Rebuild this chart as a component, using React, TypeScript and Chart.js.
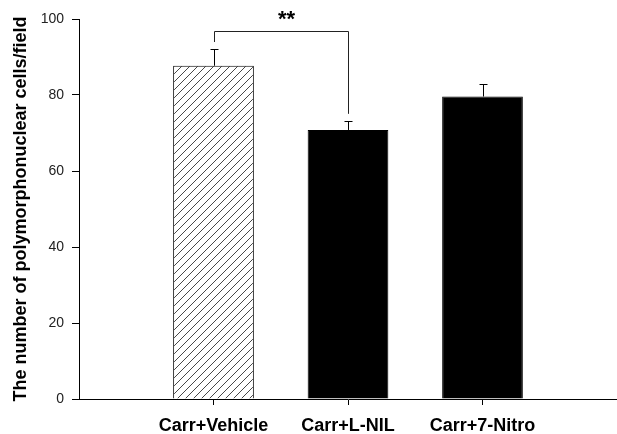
import React, { useEffect, useRef } from 'react';
import { Chart, registerables } from 'chart.js';

Chart.register(...registerables);

const categories = ['', 'Carr+Vehicle', 'Carr+L-NIL', 'Carr+7-Nitro', ''];
const means = [null, 87.7, 70.8, 79.6, null];
const errors = [null, 4.4, 2.4, 3.3, null];
const yMin = 0;
const yMax = 100;
const yStep = 20;
const yTitle = 'The number of polymorphonuclear cells/field';
const sigPair = [1, 2];
const sigLevel = 96.9;
const sigLabel = '**';

const FONT = "'Liberation Sans', Arial, Helvetica, sans-serif";

function makeHatch(): CanvasPattern | string {
  const c = document.createElement('canvas');
  c.width = 8;
  c.height = 8;
  const g = c.getContext('2d');
  if (!g) return '#fff';
  g.fillStyle = '#fff';
  g.fillRect(0, 0, 8, 8);
  g.strokeStyle = '#333';
  g.lineWidth = 0.9;
  g.beginPath();
  g.moveTo(-1, 9);
  g.lineTo(9, -1);
  g.moveTo(-1, 1);
  g.lineTo(1, -1);
  g.moveTo(7, 9);
  g.lineTo(9, 7);
  g.stroke();
  const p = g.createPattern(c, 'repeat');
  return p || '#fff';
}

const annotPlugin = {
  id: 'annot',
  afterDatasetsDraw(chart: any) {
    const ctx = chart.ctx;
    const meta = chart.getDatasetMeta(0);
    const ys = chart.scales.y;
    ctx.save();
    ctx.strokeStyle = '#000';
    ctx.lineWidth = 1;
    means.forEach((m, i) => {
      if (m == null) return;
      const bar = meta.data[i];
      const x = Math.round(bar.x) + 0.5;
      const y0 = ys.getPixelForValue(m);
      const y1 = Math.round(ys.getPixelForValue(m + (errors[i] as number))) + 0.5;
      ctx.beginPath();
      ctx.moveTo(x, y0);
      ctx.lineTo(x, y1);
      ctx.moveTo(x - 4, y1);
      ctx.lineTo(x + 4, y1);
      ctx.stroke();
    });
    // significance bracket
    const [a, b] = sigPair;
    const xa = Math.round(meta.data[a].x) + 0.5;
    const xb = Math.round(meta.data[b].x) + 0.5;
    const yTop = Math.round(ys.getPixelForValue(sigLevel)) + 0.5;
    const ya = ys.getPixelForValue((means[a] as number) + (errors[a] as number)) - 7;
    const yb = ys.getPixelForValue((means[b] as number) + (errors[b] as number)) - 7;
    ctx.strokeStyle = '#222';
    ctx.beginPath();
    ctx.moveTo(xa, ya);
    ctx.lineTo(xa, yTop);
    ctx.lineTo(xb, yTop);
    ctx.lineTo(xb, yb);
    ctx.stroke();
    ctx.fillStyle = '#000';
    ctx.font = `bold 22px ${FONT}`;
    ctx.textAlign = 'center';
    ctx.textBaseline = 'middle';
    ctx.fillText(sigLabel, (xa + xb) / 2 + 5, yTop - 12);
    ctx.restore();
  },
};

export default function App() {
  const ref = useRef<HTMLCanvasElement | null>(null);
  useEffect(() => {
    if (!ref.current) return;
    const hatch = makeHatch();
    const chart = new Chart(ref.current, {
      type: 'bar',
      data: {
        labels: categories,
        datasets: [
          {
            data: means as any,
            backgroundColor: means.map((_, i) => (i === 1 ? hatch : '#000')) as any,
            borderColor: '#000',
            borderWidth: 1,
            categoryPercentage: 0.6,
            barPercentage: 1,
          },
        ],
      },
      options: {
        animation: false,
        responsive: true,
        maintainAspectRatio: false,
        layout: { padding: { top: 19, right: 0, left: 0, bottom: 0 } },
        plugins: { legend: { display: false }, tooltip: { enabled: false } },
        scales: {
          x: {
            type: 'category',
            offset: false,
            grid: {
              offset: false,
              drawOnChartArea: false,
              drawTicks: true,
              tickLength: 6,
              color: (c: any) => (c.index === 0 || c.index === categories.length - 1 ? 'rgba(0,0,0,0)' : '#000'),
            },
            border: { display: true, color: '#000', width: 1 },
            ticks: {
              autoSkip: false,
              maxRotation: 0,
              padding: 10,
              color: '#000',
              font: { family: FONT, size: 18, weight: 'bold' },
            },
            afterFit: (s: any) => {
              s.height = 35;
              s.paddingRight = 0;
              s.paddingLeft = 0;
            },
          },
          y: {
            min: yMin,
            max: yMax,
            grid: { drawOnChartArea: false, drawTicks: true, tickLength: 7, color: '#000' },
            border: { display: true, color: '#000', width: 1 },
            ticks: {
              stepSize: yStep,
              padding: 8,
              color: '#222',
              font: { family: FONT, size: 14 },
            },
            title: {
              display: true,
              text: yTitle,
              color: '#000',
              font: { family: FONT, size: 18, weight: 'bold' },
              padding: { top: 10, bottom: 0 },
            },
            afterFit: (s: any) => {
              s.width = 79;
            },
          },
        },
      },
      plugins: [annotPlugin],
    });
    return () => chart.destroy();
  }, []);
  return (
    <div style={{ position: 'fixed', left: 0, top: 0, width: 617, height: 434, background: '#fff' }}>
      <canvas ref={ref} />
    </div>
  );
}
